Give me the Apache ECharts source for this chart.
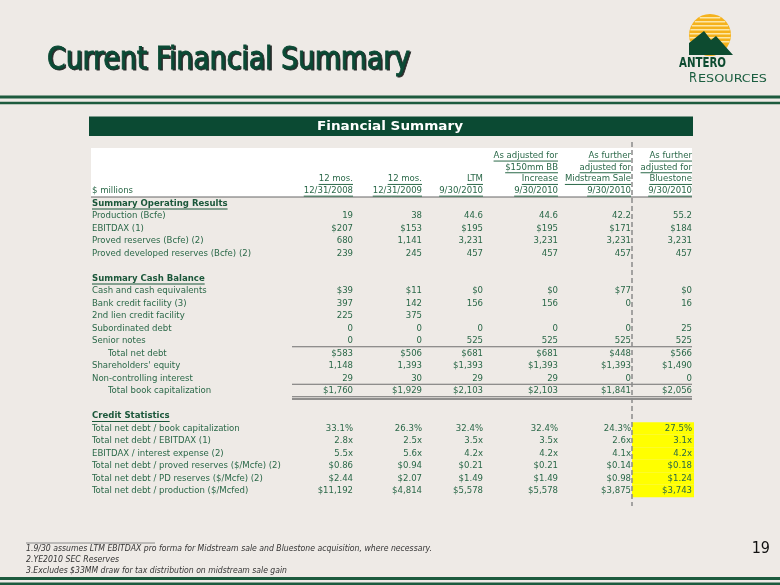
<!DOCTYPE html>
<html>
<head>
<meta charset="utf-8">
<script src="https://cdn.jsdelivr.net/npm/echarts@6/dist/echarts.min.js"></script>
<style>
html, body { margin: 0; padding: 0; background: #eeeae6; }
#main { width: 780px; height: 585px; }
</style>
</head>
<body>
<div id="main"></div>
<script>
// column headers, bottom aligned, 4 lines each
var head2008 = ['', '', '12 mos.', '12/31/2008'];
var head2009 = ['', '', '12 mos.', '12/31/2009'];
var headLTM = ['', '', 'LTM', '9/30/2010'];
var headBB = ['As adjusted for', '$150mm BB', 'Increase', '9/30/2010'];
var headMid = ['As further', 'adjusted for', 'Midstream Sale', '9/30/2010'];
var headBlue = ['As further', 'adjusted for', 'Bluestone', '9/30/2010'];

var rowLabels = [
  'Summary Operating Results', 'Production (Bcfe)', 'EBITDAX (1)', 'Proved reserves (Bcfe) (2)',
  'Proved developed reserves (Bcfe) (2)', '',
  'Summary Cash Balance', 'Cash and cash equivalents', 'Bank credit facility (3)', '2nd lien credit facility',
  'Subordinated debt', 'Senior notes', 'Total net debt', "Shareholders' equity",
  'Non-controlling interest', 'Total book capitalization', '',
  'Credit Statistics', 'Total net debt / book capitalization', 'Total net debt / EBITDAX (1)',
  'EBITDAX / interest expense (2)', 'Total net debt / proved reserves ($/Mcfe) (2)',
  'Total net debt / PD reserves ($/Mcfe) (2)', 'Total net debt / production ($/Mcfed)'
];
// s = section heading, t = indented total, b = blank, r = plain row, c = credit statistic
var rowKind = ['s','r','r','r','r','b','s','r','r','r','r','r','t','r','r','t','b','s','c','c','c','c','c','c'];

var val2008 = ['', '19', '$207', '680', '239', '', '', '$39', '397', '225', '0', '0', '$583', '1,148', '29', '$1,760', '', '',
  '33.1%', '2.8x', '5.5x', '$0.86', '$2.44', '$11,192'];
var val2009 = ['', '38', '$153', '1,141', '245', '', '', '$11', '142', '375', '0', '0', '$506', '1,393', '30', '$1,929', '', '',
  '26.3%', '2.5x', '5.6x', '$0.94', '$2.07', '$4,814'];
var valLTM = ['', '44.6', '$195', '3,231', '457', '', '', '$0', '156', '', '0', '525', '$681', '$1,393', '29', '$2,103', '', '',
  '32.4%', '3.5x', '4.2x', '$0.21', '$1.49', '$5,578'];
var valBB = ['', '44.6', '$195', '3,231', '457', '', '', '$0', '156', '', '0', '525', '$681', '$1,393', '29', '$2,103', '', '',
  '32.4%', '3.5x', '4.2x', '$0.21', '$1.49', '$5,578'];
var valMid = ['', '42.2', '$171', '3,231', '457', '', '', '$77', '0', '', '0', '525', '$448', '$1,393', '0', '$1,841', '', '',
  '24.3%', '2.6x', '4.1x', '$0.14', '$0.98', '$3,875'];
var valBlue = ['', '55.2', '$184', '3,231', '457', '', '', '$0', '16', '', '25', '525', '$566', '$1,490', '0', '$2,056', '', '',
  '27.5%', '3.1x', '4.2x', '$0.18', '$1.24', '$3,743'];

var footnotes = [
  '1.9/30 assumes LTM EBITDAX pro forma for Midstream sale and Bluestone acquisition, where necessary.',
  '2.YE2010 SEC Reserves',
  '3.Excludes $33MM draw for tax distribution on midstream sale gain'
];

var heads = [head2008, head2009, headLTM, headBB, headMid, headBlue];
var vals = [val2008, val2009, valLTM, valBB, valMid, valBlue];

// layout
var colX = [92, 353, 422, 483, 558, 631, 692];   // label left edge, then right edge of each value column
var ruleRows = { 11: 'single', 14: 'single', 15: 'double' };
var GREEN = '#2a6848';
var DARK = '#0b4a33';
var FAM = '"DejaVu Sans Condensed", "DejaVu Sans", sans-serif';
var FONT = '9.5px ' + FAM;
var BOLD = 'bold 9.5px ' + FAM;

var mctx = document.createElement('canvas').getContext('2d');
function textW(t, font) { mctx.font = font; return mctx.measureText(t).width; }

// text squeezed/stretched to a given width
function fitText(text, font, x, y, width, style) {
  var st = { text: text, x: 0, y: 0, font: font, verticalAlign: 'middle' };
  for (var k in style) st[k] = style[k];
  return { type: 'text', x: x, y: y, scaleX: width / textW(text, font), style: st };
}

function underline(kids, x0, x1, y, color) {
  kids.push({ type: 'line', shape: { x1: x0, y1: y, x2: x1, y2: y }, style: { stroke: color, lineWidth: 1 } });
}

function bodyItem(params, api) {
  var i = params.dataIndex;
  var y = api.coord([0, i])[1];
  var band = api.size([0, 1])[1];
  var kind = rowKind[i];
  var kids = [];
  if (kind === 'c') {
    kids.push({ type: 'rect', shape: { x: colX[5] + 1, y: y - band / 2, width: colX[6] - colX[5] + 1, height: band },
      style: { fill: '#ffff00' } });
  }
  var lx = kind === 't' ? colX[0] + 16 : colX[0];
  var lf = kind === 's' ? BOLD : FONT;
  var lc = kind === 's' ? '#1b573a' : GREEN;
  kids.push({ type: 'text', style: { text: rowLabels[i], x: lx, y: y, font: lf, fill: lc, align: 'left', verticalAlign: 'middle' } });
  if (kind === 's') underline(kids, lx, lx + textW(rowLabels[i], lf), y + 5.5, lc);
  for (var j = 0; j < vals.length; j++) {
    kids.push({ type: 'text', style: { text: vals[j][i], x: colX[j + 1], y: y, font: FONT, fill: GREEN, align: 'right', verticalAlign: 'middle' } });
  }
  var rule = ruleRows[i];
  if (rule) {
    var yb = y + band / 2;
    kids.push({ type: 'line', shape: { x1: 292, y1: yb - 0.5, x2: colX[6], y2: yb - 0.5 }, style: { stroke: '#6f6f6f', lineWidth: 1 } });
    if (rule === 'double') {
      kids.push({ type: 'line', shape: { x1: 292, y1: yb + 1.8, x2: colX[6], y2: yb + 1.8 }, style: { stroke: '#6f6f6f', lineWidth: 1.6 } });
    }
  }
  return { type: 'group', children: kids };
}

function headItem(params, api) {
  var k = params.dataIndex;
  var y = api.coord([0, k])[1];
  var kids = [];
  if (k === 3) {
    kids.push({ type: 'text', style: { text: '$ millions', x: colX[0], y: y, font: FONT, fill: GREEN, align: 'left', verticalAlign: 'middle' } });
  }
  for (var j = 0; j < heads.length; j++) {
    var t = heads[j][k];
    if (!t) continue;
    var xr = colX[j + 1];
    kids.push({ type: 'text', style: { text: t, x: xr, y: y, font: FONT, fill: GREEN, align: 'right', verticalAlign: 'middle' } });
    underline(kids, xr - textW(t, FONT), xr, y + 5.5, GREEN);
  }
  return { type: 'group', children: kids };
}

// logo: striped sun behind mountains
var sunCx = 710, sunCy = 35, sunR = 21;
var logo = [{ type: 'circle', shape: { cx: sunCx, cy: sunCy, r: sunR }, style: { fill: '#f5b21c' } }];
for (var s = -18; s < 10; s += 4) {
  var half = Math.sqrt(Math.max(0, sunR * sunR - s * s)) - 0.5;
  logo.push({ type: 'rect', shape: { x: sunCx - half, y: sunCy + s, width: half * 2, height: 1.5 }, style: { fill: '#fde7a6' } });
}
logo.push({ type: 'polygon', shape: { points: [[689, 55], [689, 43], [704, 31], [711, 40], [716, 36], [733, 55]] }, style: { fill: '#0d4b30' } });
logo.push(fitText('ANTERO', 'bold 14px ' + FAM, 679, 63.5, 47, { fill: '#0d4b30' }));
logo.push(fitText('R', '14px ' + FAM, 689, 78.5, 8, { fill: '#1b5e40' }));
logo.push(fitText('ESOURCES', '11px ' + FAM, 698, 79.5, 69, { fill: '#1b5e40' }));

var TITLE_FONT = '32px ' + FAM;
var graphics = [
  { type: 'rect', shape: { x: 0, y: 95.5, width: 780, height: 3 }, style: { fill: '#1d5b3e' } },
  { type: 'rect', shape: { x: 0, y: 101.8, width: 780, height: 2.4 }, style: { fill: '#1d5b3e' } },
  { type: 'rect', shape: { x: 0, y: 577, width: 780, height: 3 }, style: { fill: '#1d5b3e' } },
  { type: 'rect', shape: { x: 0, y: 582.5, width: 780, height: 2.5 }, style: { fill: '#1d5b3e' } },
  fitText('Current Financial Summary', TITLE_FONT, 48.5, 62, 363, { fill: '#2a2a2a', stroke: '#2a2a2a', lineWidth: 0.8 }),
  fitText('Current Financial Summary', TITLE_FONT, 47, 60.5, 363, { fill: '#0b4a35', stroke: '#0b4a35', lineWidth: 0.8 }),
  { type: 'rect', shape: { x: 89, y: 116.5, width: 604, height: 19.5 }, style: { fill: DARK } },
  fitText('Financial Summary', 'bold 13px "DejaVu Sans", sans-serif', 390, 126.5, 146, { fill: '#ffffff', align: 'center' }),
  { type: 'rect', shape: { x: 91, y: 148, width: 601, height: 49 }, style: { fill: '#ffffff' }, z: -1 },
  { type: 'line', shape: { x1: 91, y1: 197, x2: 692, y2: 197 }, style: { stroke: '#666666', lineWidth: 1 } },
  { type: 'line', shape: { x1: 632, y1: 142, x2: 632, y2: 506 }, style: { stroke: '#8a8a8a', lineWidth: 1.5, lineDash: [5, 3] }, z: 10 },
  { type: 'line', shape: { x1: 26, y1: 543, x2: 155, y2: 543 }, style: { stroke: '#8a8a8a', lineWidth: 1 } },
  { type: 'text', style: { text: '19', x: 770, y: 549, font: '16px ' + FAM, fill: '#111111', align: 'right', verticalAlign: 'middle' } }
].concat(logo);
var fnWidths = [406, 93, 261];
footnotes.forEach(function (f, n) {
  graphics.push(fitText(f, 'italic 9.5px ' + FAM, 26, 549 + n * 10.7, fnWidths[n], { fill: '#333333' }));
});

var option = {
  backgroundColor: '#eeeae6',
  animation: false,
  grid: [
    { left: 0, right: 0, top: 197.25, bottom: 87.75 },
    { left: 0, right: 0, top: 149.7, bottom: 388.5 }
  ],
  xAxis: [
    { type: 'value', min: 0, max: 780, gridIndex: 0, show: false },
    { type: 'value', min: 0, max: 780, gridIndex: 1, show: false }
  ],
  yAxis: [
    { type: 'category', inverse: true, gridIndex: 0, data: rowLabels.map(function (_, i) { return i; }), show: false },
    { type: 'category', inverse: true, gridIndex: 1, data: [0, 1, 2, 3], show: false }
  ],
  graphic: graphics,
  series: [
    { type: 'custom', xAxisIndex: 0, yAxisIndex: 0, renderItem: bodyItem, silent: true,
      data: rowLabels.map(function (_, i) { return [0, i]; }) },
    { type: 'custom', xAxisIndex: 1, yAxisIndex: 1, renderItem: headItem, silent: true,
      data: [[0, 0], [0, 1], [0, 2], [0, 3]] }
  ]
};

var myChart = echarts.init(document.getElementById('main'));
myChart.setOption(option);
</script>
</body>
</html>
